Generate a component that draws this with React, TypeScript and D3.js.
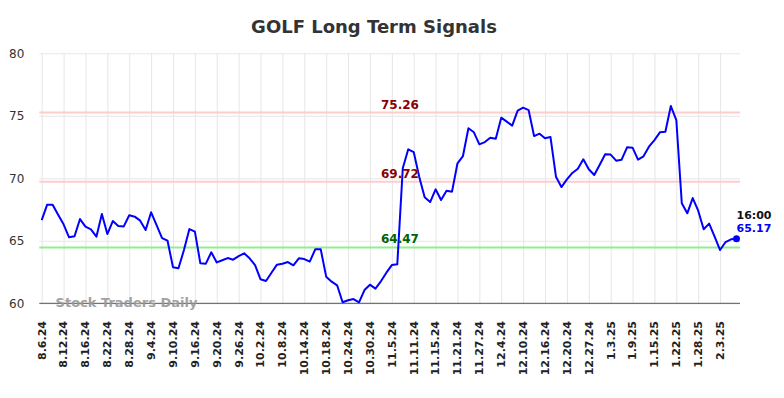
import React, { useEffect, useRef } from 'react';
import { axisBottom, axisLeft, line, scaleLinear, select } from 'd3';

const tickLabels = [
  '8.6.24', '8.12.24', '8.16.24', '8.22.24', '8.28.24', '9.4.24', '9.10.24', '9.16.24',
  '9.20.24', '9.26.24', '10.2.24', '10.8.24', '10.14.24', '10.18.24', '10.24.24', '10.30.24',
  '11.5.24', '11.11.24', '11.15.24', '11.21.24', '11.27.24', '12.4.24', '12.10.24', '12.16.24',
  '12.20.24', '12.27.24', '1.3.25', '1.9.25', '1.15.25', '1.22.25', '1.28.25', '2.3.25',
];

const prices = [
  66.66, 67.89, 67.89, 67.09, 66.32, 65.28, 65.36, 66.74, 66.13, 65.92,
  65.33, 67.14, 65.54, 66.58, 66.18, 66.15, 67.04, 66.93, 66.61, 65.86,
  67.28, 66.26, 65.22, 65.01, 62.88, 62.8, 64.26, 65.94, 65.73, 63.2,
  63.17, 64.08, 63.27, 63.44, 63.62, 63.49, 63.78, 64.0, 63.6, 63.06,
  61.92, 61.78, 62.45, 63.09, 63.17, 63.3, 63.04, 63.6, 63.54, 63.33,
  64.32, 64.32, 62.13, 61.73, 61.44, 60.08, 60.24, 60.34, 60.08, 61.06,
  61.49, 61.17, 61.76, 62.45, 63.06, 63.13, 70.8, 72.32, 72.1, 70.13,
  68.48, 68.1, 69.12, 68.26, 69.01, 68.93, 71.2, 71.78, 74.0, 73.68,
  72.72, 72.9, 73.25, 73.17, 74.85, 74.53, 74.21, 75.41, 75.65, 75.46,
  73.38, 73.57, 73.2, 73.3, 70.13, 69.3, 69.92, 70.43, 70.77, 71.52,
  70.72, 70.26, 71.09, 71.92, 71.9, 71.41, 71.49, 72.48, 72.45, 71.49,
  71.76, 72.53, 73.06, 73.68, 73.73, 75.78, 74.66, 68.0, 67.2, 68.42,
  67.41, 65.92, 66.37, 65.33, 64.26, 64.9, 65.12, 65.17,
];

const resistance = [75.26, 69.72];
const support = [64.47];
const yTicks = [60, 65, 70, 75, 80];
const lastTime = '16:00';

const W = 784, H = 398;
const plot = { left: 39.3, right: 740, top: 53.3, bottom: 303.3 };

export default function App() {
  const svgRef = useRef<SVGSVGElement>(null);

  useEffect(() => {
    const svg = select(svgRef.current);
    svg.selectAll('*').remove();

    const x = scaleLinear().domain([0, prices.length - 1]).range([41.7, 736.5]);
    const y = scaleLinear().domain([60, 80]).range([plot.bottom, plot.top]);
    const tickIdx = tickLabels.map((_, i) => i * 4);

    // grid
    const gx = svg.append('g').attr('transform', `translate(0,${plot.bottom})`)
      .call(axisBottom(x).tickValues(tickIdx).tickSize(-(plot.bottom - plot.top)).tickFormat(() => ''));
    gx.select('.domain').remove();
    gx.selectAll('line').attr('stroke', '#e6e6e6').attr('stroke-width', 1);

    const gy = svg.append('g').attr('transform', `translate(${plot.left},0)`)
      .call(axisLeft(y).tickValues(yTicks).tickSize(-(plot.right - plot.left)).tickPadding(15));
    gy.select('.domain').remove();
    gy.selectAll('line').attr('stroke', '#e6e6e6').attr('stroke-width', 1);
    gy.selectAll('text').attr('font-family', 'DejaVu Sans').attr('font-size', 12).attr('fill', '#333');

    // signal lines
    const levels = [
      ...resistance.map((v) => ({ v, line: '#ffcccc', text: '#8b0000' })),
      ...support.map((v) => ({ v, line: '#90ee90', text: '#006400' })),
    ];
    levels.forEach((s) => {
      svg.append('line')
        .attr('x1', plot.left).attr('x2', plot.right)
        .attr('y1', y(s.v)).attr('y2', y(s.v))
        .attr('stroke', s.line).attr('stroke-width', 2);
    });

    // x axis line + labels
    svg.append('line')
      .attr('x1', plot.left).attr('x2', plot.right)
      .attr('y1', plot.bottom).attr('y2', plot.bottom)
      .attr('stroke', '#555').attr('stroke-width', 1);

    svg.append('g').selectAll('text').data(tickLabels).join('text')
      .attr('transform', (_, i) => `translate(${x(tickIdx[i])},${321})rotate(-90)`)
      .attr('text-anchor', 'end').attr('dy', '0.35em')
      .attr('font-family', 'DejaVu Sans').attr('font-size', 11).attr('font-weight', 'bold')
      .attr('fill', '#222')
      .text((d) => d);

    // watermark
    svg.append('text')
      .attr('x', 126.5).attr('y', 302).attr('dy', '0.35em').attr('text-anchor', 'middle')
      .attr('font-family', 'DejaVu Sans').attr('font-size', 13).attr('font-weight', 'bold')
      .attr('fill', '#999').attr('opacity', 0.9)
      .text('Stock Traders Daily');

    // price line
    const path = line<number>().x((_, i) => x(i)).y((d) => y(d));
    svg.append('path').datum(prices)
      .attr('d', path).attr('fill', 'none')
      .attr('stroke', '#0000ff').attr('stroke-width', 2).attr('stroke-linejoin', 'round');

    // level labels
    levels.forEach((s) => {
      svg.append('text')
        .attr('x', 400).attr('y', y(s.v) - 4).attr('text-anchor', 'middle')
        .attr('font-family', 'DejaVu Sans').attr('font-size', 12).attr('font-weight', 'bold')
        .attr('fill', s.text)
        .text(s.v.toFixed(2));
    });

    // last point
    const last = prices[prices.length - 1];
    const lx = x(prices.length - 1), ly = y(last);
    svg.append('circle').attr('cx', lx).attr('cy', ly).attr('r', 3.5).attr('fill', '#0000ff');
    svg.append('text').attr('x', lx).attr('y', 219).attr('font-family', 'DejaVu Sans')
      .attr('font-size', 11).attr('font-weight', 'bold').attr('fill', '#111').text(lastTime);
    svg.append('text').attr('x', lx).attr('y', 232).attr('font-family', 'DejaVu Sans')
      .attr('font-size', 11).attr('font-weight', 'bold').attr('fill', '#0000ff').text(last.toFixed(2));

    // title
    svg.append('text')
      .attr('x', 374).attr('y', 33).attr('text-anchor', 'middle')
      .attr('font-family', 'DejaVu Sans').attr('font-size', 18).attr('font-weight', 'bold')
      .attr('fill', '#333')
      .text('GOLF Long Term Signals');
  }, []);

  return (
    <svg ref={svgRef} width={W} height={H}
      style={{ position: 'absolute', left: 0, top: 0, background: '#fff' }} />
  );
}
